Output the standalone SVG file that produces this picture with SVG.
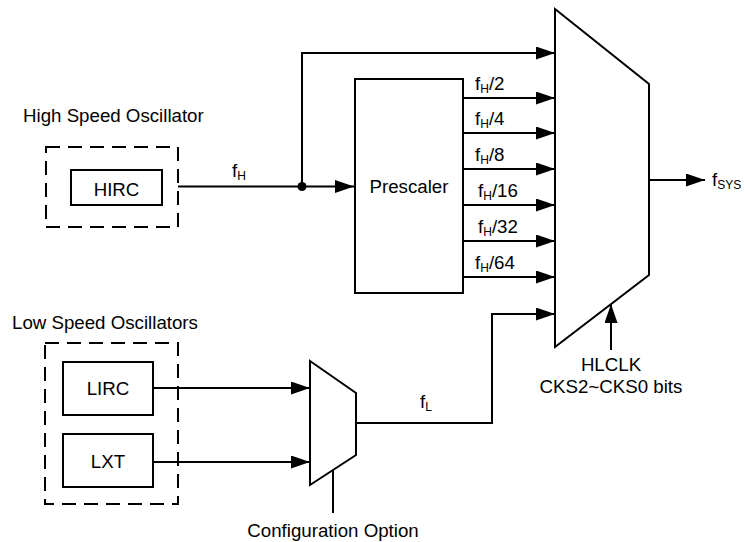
<svg xmlns="http://www.w3.org/2000/svg" width="752" height="542" viewBox="0 0 752 542">
<defs>
<marker id="arr" markerUnits="userSpaceOnUse" markerWidth="20" markerHeight="14" refX="19" refY="6.5" orient="auto">
<path d="M0,0 L19,6.5 L0,13 z" fill="#000"/>
</marker>
<style>
text{font-family:"Liberation Sans",Arial,sans-serif;font-size:18.7px;fill:#000}
.c{text-anchor:middle}
.s{font-size:12px}
.box{fill:#fff;stroke:#000;stroke-width:2}
.dash{fill:none;stroke:#000;stroke-width:2;stroke-dasharray:14 8}
.ln{fill:none;stroke:#000;stroke-width:2}
.ar{fill:none;stroke:#000;stroke-width:2;marker-end:url(#arr)}
</style>
</defs>
<rect width="752" height="542" fill="#fff"/>

<g id="high-speed-group">
<text x="23" y="122">High Speed Oscillator</text>
<rect class="dash" x="46" y="147" width="132" height="80"/>
</g>
<g id="hirc">
<rect class="box" x="71" y="170" width="91" height="35"/>
<text class="c" x="116.5" y="196">HIRC</text>
</g>

<g id="low-speed-group">
<text x="12" y="329">Low Speed Oscillators</text>
<rect class="dash" x="45" y="343" width="133" height="161"/>
</g>
<g id="lirc">
<rect class="box" x="63" y="362" width="90" height="53"/>
<text class="c" x="108" y="395">LIRC</text>
</g>
<g id="lxt">
<rect class="box" x="63" y="434" width="90" height="53"/>
<text class="c" x="108" y="468">LXT</text>
</g>

<g id="prescaler">
<rect class="box" x="355" y="79" width="108" height="214"/>
<text class="c" x="409" y="193">Prescaler</text>
</g>

<g id="low-mux">
<polygon class="box" points="310,361 356,393 356,455 310,485"/>
</g>

<g id="main-mux">
<polygon class="box" points="555,9 649,84 649,275 555,347"/>
</g>

<g id="connectors">
<path class="ar" d="M178,186.5 H354"/>
<circle cx="302" cy="186.5" r="4.5" fill="#000"/>
<path class="ar" d="M302,186.5 V53 H555"/>
<path class="ar" d="M463,98 H555"/>
<path class="ar" d="M463,133 H555"/>
<path class="ar" d="M463,169 H555"/>
<path class="ar" d="M463,205 H555"/>
<path class="ar" d="M463,241 H555"/>
<path class="ar" d="M463,277 H555"/>
<path class="ar" d="M356,423 H492 V314 H555"/>
<path class="ar" d="M153,388 H310"/>
<path class="ar" d="M153,462 H310"/>
<path class="ar" d="M649,180 H705"/>
<path class="ar" d="M611,350 V304"/>
<path class="ln" d="M333,470 V513"/>
</g>

<g id="labels">
<text x="232" y="177">f<tspan class="s" dy="3">H</tspan></text>
<text x="475" y="90">f<tspan class="s" dy="3">H</tspan><tspan dy="-3">/2</tspan></text>
<text x="475" y="125">f<tspan class="s" dy="3">H</tspan><tspan dy="-3">/4</tspan></text>
<text x="475" y="161">f<tspan class="s" dy="3">H</tspan><tspan dy="-3">/8</tspan></text>
<text x="478" y="197">f<tspan class="s" dy="3">H</tspan><tspan dy="-3">/16</tspan></text>
<text x="478" y="233">f<tspan class="s" dy="3">H</tspan><tspan dy="-3">/32</tspan></text>
<text x="475" y="269">f<tspan class="s" dy="3">H</tspan><tspan dy="-3">/64</tspan></text>
<text x="420" y="408">f<tspan class="s" dy="3">L</tspan></text>
<text x="712" y="186">f<tspan class="s" dy="3">SYS</tspan></text>
<text class="c" x="611" y="371">HLCLK</text>
<text class="c" x="611" y="393">CKS2~CKS0 bits</text>
<text class="c" x="333" y="537">Configuration Option</text>
</g>
</svg>
